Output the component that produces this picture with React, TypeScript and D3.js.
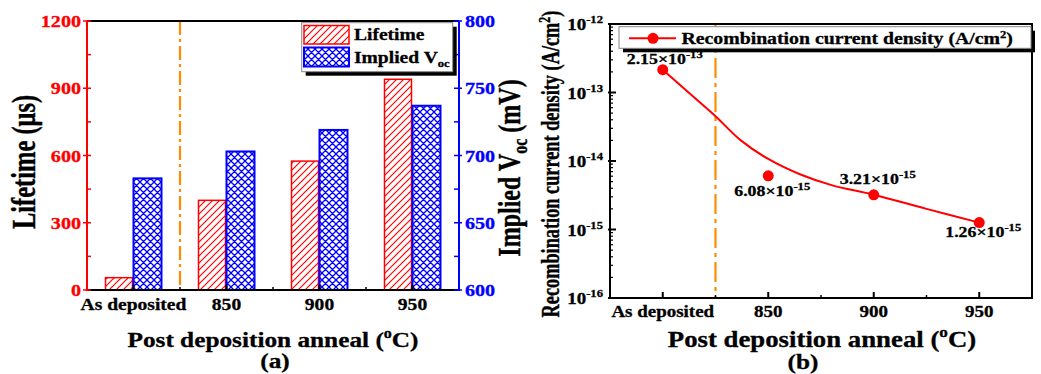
import React from 'react';
import * as d3 from 'd3';

// ---------- data: panel (a) ----------
const categories = ['As deposited', '850', '900', '950'];
const seriesKeys = ['Lifetime', 'Implied Voc'];
const lifetime = [55, 400, 575, 940];
const impliedVoc = [683, 703, 719, 737];
const lifetimeTicks = [0, 300, 600, 900, 1200];
const vocTicks = [600, 650, 700, 750, 800];

// ---------- data: panel (b) ----------
const annealTemps = [800, 850, 900, 950]; // "As deposited" placed at 800
const annealLabels = ['As deposited', '850', '900', '950'];
const j0 = [2.15e-13, 6.08e-15, 3.21e-15, 1.26e-15];
const j0Mantissa = ['2.15', '6.08', '3.21', '1.26'];
const j0Exponent = ['-13', '-15', '-15', '-15'];
const fitX = [800, 812.5, 825, 837, 850, 865, 880, 900, 925, 950];
const fitY = [2.15e-13, 9.8e-14, 4.5e-14, 2.0e-14, 1.07e-14, 6.4e-15, 4.45e-15, 3.21e-15, 2.0e-15, 1.26e-15];
const decadeExponents = [-12, -13, -14, -15, -16];

const FONT = "'Liberation Serif', 'Times New Roman', serif";
const SX = 1.15;
const RSX = 1.35;
const RED = '#ff0000';
const BLUE = '#0000ff';
const ORANGE = '#ff8c00';

function T({ x, y, rot = 0, size, anchor = 'middle', fill = '#000', sx = SX, children }: any) {
  return (
    <text
      transform={`translate(${x},${y}) scale(${sx},1) rotate(${rot})`}
      fontSize={size}
      textAnchor={anchor}
      fill={fill}
      stroke={fill}
      strokeWidth={0.3}
      fontWeight="bold"
      fontFamily={FONT}
    >
      {children}
    </text>
  );
}

function PanelA() {
  const L = { left: 87, right: 459, top: 21, bottom: 290 };
  const x0 = d3.scaleBand<string>().domain(categories).range([L.left, L.right]);
  const bw = x0.bandwidth();
  const x1 = d3.scaleBand<string>().domain(seriesKeys).range([0, 56]);
  const yL = d3.scaleLinear().domain([0, 1200]).range([L.bottom, L.top]);
  const yR = d3.scaleLinear().domain([600, 800]).range([L.bottom, L.top]);
  const leftMinor = d3.range(0, 1201, 150);
  const rightMinor = d3.range(600, 801, 25);
  const boundaries = categories.slice(1).map((c) => x0(c)!);

  return (
    <g>
      {categories.map((c, i) => {
        const base = x0(c)! + bw / 2 - 28;
        return (
          <g key={c}>
            <rect
              x={base + x1('Lifetime')!}
              y={yL(lifetime[i])}
              width={x1.bandwidth() - 1}
              height={L.bottom - yL(lifetime[i])}
              fill="url(#hatchR)"
              stroke={RED}
              strokeWidth={1.5}
            />
            <rect
              x={base + x1('Implied Voc')!}
              y={yR(impliedVoc[i])}
              width={x1.bandwidth()}
              height={L.bottom - yR(impliedVoc[i])}
              fill="url(#hatchB)"
              stroke={BLUE}
              strokeWidth={2}
            />
          </g>
        );
      })}
      <line x1={x0('850')} x2={x0('850')} y1={L.top} y2={L.bottom} stroke={ORANGE} strokeWidth={2.2} strokeDasharray="14,4,3,4" />
      <line x1={L.left} x2={L.right} y1={L.top} y2={L.top} stroke="#000" strokeWidth={2} />
      <line x1={L.left} x2={L.right} y1={L.bottom} y2={L.bottom} stroke="#000" strokeWidth={2} />
      <line x1={L.left} x2={L.left} y1={L.top} y2={L.bottom + 1} stroke={RED} strokeWidth={2} />
      <line x1={L.right} x2={L.right} y1={L.top} y2={L.bottom + 1} stroke={BLUE} strokeWidth={2} />
      {categories.map((c) => (
        <line key={c} x1={x0(c)! + bw / 2} x2={x0(c)! + bw / 2} y1={L.bottom + 1} y2={L.bottom - 5} stroke="#000" strokeWidth={2} />
      ))}
      {boundaries.map((b) => (
        <line key={b} x1={b} x2={b} y1={L.bottom + 1} y2={L.bottom - 3} stroke="#000" strokeWidth={1.5} />
      ))}
      {leftMinor.map((v) => {
        const major = v % 300 === 0;
        return <line key={v} x1={L.left - (major ? 4 : 0)} x2={L.left + 4} y1={yL(v)} y2={yL(v)} stroke={RED} strokeWidth={1.5} />;
      })}
      {rightMinor.map((v) => {
        const major = v % 50 === 0;
        return <line key={v} x1={L.right + (major ? 3 : 0)} x2={L.right - 5} y1={yR(v)} y2={yR(v)} stroke={BLUE} strokeWidth={1.5} />;
      })}
      {lifetimeTicks.map((v) => (
        <T key={v} x={81} y={yL(v) + 6} size={17.5} anchor="end" fill={RED}>{v}</T>
      ))}
      {vocTicks.map((v) => (
        <T key={v} x={465} y={yR(v) + 6} size={17.5} anchor="start" fill={BLUE}>{v}</T>
      ))}
      {categories.map((c) => (
        <T key={c} x={x0(c)! + bw / 2} y={310} size={17}>{c}</T>
      ))}
      <T x={35} y={162} rot={-90} size={24.5} sx={RSX}>Lifetime (μs)</T>
      <T x={520} y={168} rot={-90} size={24} sx={RSX}>
        Implied V<tspan fontSize={16} dy={5}>oc</tspan><tspan dy={-5}> (mV)</tspan>
      </T>
      <T x={(L.left + L.right) / 2} y={347} size={22}>
        Post deposition anneal (<tspan fontSize={14} dy={-9}>o</tspan><tspan dy={9}>C)</tspan>
      </T>
      <T x={275} y={368} size={22}>(a)</T>
      <rect x={305.7} y={26.7} width={151} height={49} fill="#000" />
      <rect x={301.7} y={22.7} width={151} height={49} fill="#fff" stroke="#888" strokeWidth={1} />
      <rect x={304} y={25.5} width={45} height={18.5} fill="url(#hatchR)" stroke={RED} strokeWidth={1.5} />
      <rect x={304} y={47.5} width={45} height={19} fill="url(#hatchB)" stroke={BLUE} strokeWidth={2} />
      <T x={354} y={40} size={17} anchor="start">{seriesKeys[0]}</T>
      <T x={354} y={63} size={17} anchor="start">
        Implied V<tspan fontSize={11} dy={4}>oc</tspan>
      </T>
    </g>
  );
}

function PanelB() {
  const R = { left: 610, right: 1032, top: 24, bottom: 298 };
  const xr = d3.scaleLinear().domain([775, 975]).range([R.left, R.right]);
  const yr = d3.scaleLog().domain([1e-16, 1e-12]).range([R.bottom, R.top]);
  const minorY: number[] = [];
  for (let e = -16; e < -12; e++) for (let k = 2; k <= 9; k++) minorY.push(k * Math.pow(10, e));
  const minorX = [825, 875, 925];
  const line = d3
    .line<number>()
    .x((_, i) => xr(fitX[i]))
    .y((d) => yr(d))
    .curve(d3.curveCatmullRom.alpha(0.5));
  const labelOffsets = [[2, -6], [4, 20], [4, -11], [4, 14]];

  return (
    <g>
      <line x1={xr(825)} x2={xr(825)} y1={R.top} y2={R.bottom} stroke={ORANGE} strokeWidth={2.2} strokeDasharray="20,5,4,5" />
      <path d={line(fitY) || ''} fill="none" stroke={RED} strokeWidth={2} />
      {j0.map((v, i) => (
        <circle key={i} cx={xr(annealTemps[i])} cy={yr(v)} r={5.5} fill={RED} />
      ))}
      {j0.map((v, i) => (
        <T key={i} x={xr(annealTemps[i]) + labelOffsets[i][0]} y={yr(v) + labelOffsets[i][1]} size={15.5}>
          {j0Mantissa[i]}×10<tspan fontSize={11} dy={-6}>{j0Exponent[i]}</tspan>
        </T>
      ))}
      <rect x={R.left} y={R.top} width={R.right - R.left} height={R.bottom - R.top} fill="none" stroke="#000" strokeWidth={2} />
      {annealTemps.map((t) => (
        <line key={t} x1={xr(t)} x2={xr(t)} y1={R.bottom} y2={R.bottom - 6} stroke="#000" strokeWidth={2} />
      ))}
      {minorX.map((t) => (
        <line key={t} x1={xr(t)} x2={xr(t)} y1={R.bottom} y2={R.bottom - 3} stroke="#000" strokeWidth={1.5} />
      ))}
      {decadeExponents.map((e) => (
        <line key={e} x1={R.left - 2} x2={R.left + 6} y1={yr(Math.pow(10, e))} y2={yr(Math.pow(10, e))} stroke="#000" strokeWidth={2} />
      ))}
      {minorY.map((v, i) => (
        <line key={i} x1={R.left} x2={R.left + 3} y1={yr(v)} y2={yr(v)} stroke="#000" strokeWidth={1.2} />
      ))}
      {decadeExponents.map((e) => (
        <T key={e} x={603} y={yr(Math.pow(10, e)) + 6} size={16.5} anchor="end">
          10<tspan fontSize={11} dy={-7}>{String(e)}</tspan>
        </T>
      ))}
      {annealTemps.map((t, i) => (
        <T key={t} x={xr(t)} y={317} size={16.5}>{annealLabels[i]}</T>
      ))}
      <T x={559} y={164} rot={-90} size={18.3} sx={RSX}>
        Recombination current density (A/cm<tspan fontSize={12} dy={-7}>2</tspan><tspan dy={7}>)</tspan>
      </T>
      <T x={822} y={347} size={23.3}>
        Post deposition anneal (<tspan fontSize={15} dy={-10}>o</tspan><tspan dy={10}>C)</tspan>
      </T>
      <T x={803} y={369} size={22}>(b)</T>
      <rect x={623} y={30.7} width={412} height={21.6} fill="#000" />
      <rect x={619} y={26.7} width={412} height={21.6} fill="#fff" stroke="#888" strokeWidth={1} />
      <line x1={629} x2={676} y1={38.3} y2={38.3} stroke={RED} strokeWidth={2} />
      <circle cx={653} cy={38.3} r={5.5} fill={RED} />
      <T x={681.5} y={44} size={17.2} anchor="start">
        Recombination current density (A/cm<tspan fontSize={11} dy={-6}>2</tspan><tspan dy={6}>)</tspan>
      </T>
    </g>
  );
}

export default function App() {
  return (
    <svg width={1041} height={374} style={{ position: 'absolute', left: 0, top: 0, background: '#fff' }}>
      <defs>
        <pattern id="hatchR" patternUnits="userSpaceOnUse" width={7} height={7}>
          <rect width={7} height={7} fill="#fff" />
          <path d="M-1,1 L1,-1 M0,7 L7,0 M6,8 L8,6" stroke={RED} strokeWidth={1.2} />
        </pattern>
        <pattern id="hatchB" patternUnits="userSpaceOnUse" width={7} height={7}>
          <rect width={7} height={7} fill="#fff" />
          <path d="M-1,1 L1,-1 M0,7 L7,0 M6,8 L8,6 M-1,6 L1,8 M0,0 L7,7 M6,-1 L8,1" stroke={BLUE} strokeWidth={1.3} />
        </pattern>
      </defs>
      <rect width={1041} height={374} fill="#fff" />
      <PanelA />
      <PanelB />
    </svg>
  );
}
